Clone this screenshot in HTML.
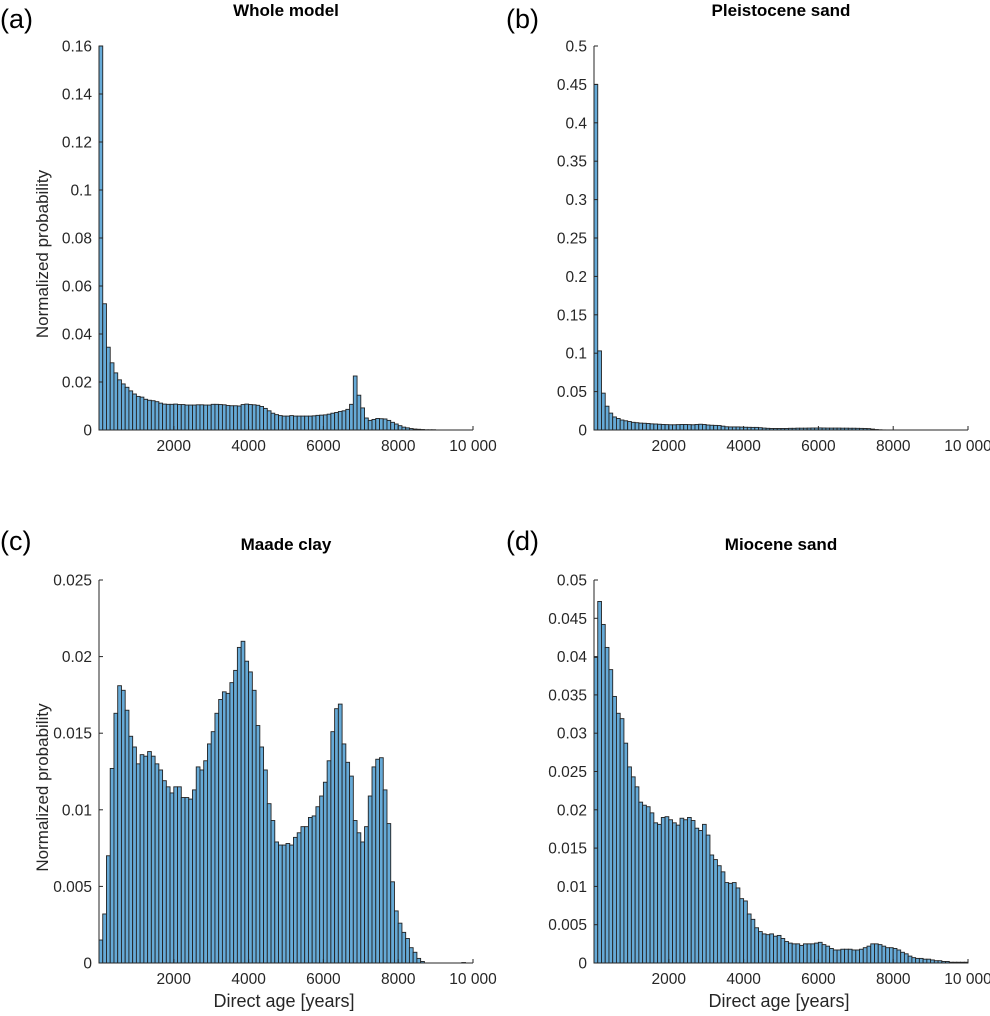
<!DOCTYPE html>
<html><head><meta charset="utf-8">
<style>
html,body{margin:0;padding:0;background:#fff;}
svg{display:block;font-family:"Liberation Sans",Arial,sans-serif;}
.pl{font-family:"Liberation Sans",sans-serif;font-size:27px;fill:#000;}
</style></head>
<body>
<svg id="fig" width="990" height="1016" viewBox="0 0 990 1016" xmlns="http://www.w3.org/2000/svg">
<text class="pl" x="0" y="28">(a)</text>
<text class="pl" x="506" y="28">(b)</text>
<text class="pl" x="0" y="550">(c)</text>
<text class="pl" x="506" y="550">(d)</text>
</svg>
<script>
const binEdgesStart = 0;
const binWidth = 100;
const xTicks = [2000, 4000, 6000, 8000, 10000];
const xTickLabels = ["2000", "4000", "6000", "8000", "10 000"];

const wholeModel = [.160,.0526,.0345,.028,.0238,.0209,.0192,.0178,.0163,.0150,
.0140,.0137,.0128,.0124,.0122,.0118,.0112,.0108,.0107,.0107,
.0108,.0106,.0106,.0104,.0104,.0104,.0105,.0105,.0104,.0104,
.0107,.0107,.0106,.0105,.0102,.0101,.0101,.0100,.0106,.0108,
.0106,.0105,.0103,.0098,.0090,.0080,.0070,.0064,.0060,.0058,
.0058,.0060,.0058,.0058,.0058,.0058,.0058,.0059,.0061,.0062,
.0063,.0066,.0070,.0073,.0077,.0080,.0086,.0107,.0225,.0145,
.0092,.0050,.0040,.0044,.0048,.0047,.0046,.0040,.0032,.0025,
.0018,.0012,.0009,.0006,.0004,.0003,.0002,.0001,.0001,.0001,
0,0,0,0,0,0,0,0,0,0];

const pleistoceneSand = [.450,.103,.048,.031,.022,.017,.015,.013,.012,.011,
.010,.0095,.009,.0088,.0085,.008,.0078,.0075,.0072,.007,
.0068,.0068,.007,.0072,.0072,.007,.0068,.0072,.0075,.0072,
.0065,.0062,.006,.0058,.005,.0042,.004,.004,.004,.0038,
.0036,.0035,.0034,.0034,.003,.0025,.0022,.002,.002,.002,
.002,.002,.0022,.0022,.0024,.0024,.0024,.0025,.0026,.0026,
.0027,.0026,.0025,.0025,.0025,.0025,.0024,.0024,.0023,.0023,
.0022,.0021,.002,.0018,.0012,.0006,.0003,.0001,0,0,
0,0,0,0,0,0,0,0,0,0,
0,0,0,0,0,0,0,0,0,0];

const maadeClay = [.0015,.0032,.0070,.0127,.0163,.0181,.0178,.0165,.0148,.0141,
.0130,.0136,.0135,.0138,.0135,.0130,.0126,.0119,.0115,.0111,
.0115,.0115,.0108,.0108,.0107,.0113,.0128,.0126,.0132,.0143,
.0151,.0163,.0172,.0177,.0176,.0183,.0191,.0206,.0210,.0197,
.0190,.0178,.0155,.0141,.0126,.0104,.0093,.0079,.0077,.0077,
.0078,.0077,.0082,.0085,.0089,.0089,.0095,.0096,.0102,.0109,
.0118,.0132,.0151,.0166,.0169,.0143,.0131,.0122,.0093,.0085,
.0079,.0089,.0109,.0128,.0133,.0134,.0113,.0091,.0053,.0034,
.0026,.0020,.0016,.0010,.0007,.0003,.0001,0,0,0,
0,0,0,0,0,0,0,.00003,0,0];

const mioceneSand = [.0399,.0472,.0442,.0412,.0383,.0348,.0326,.0319,.0287,.0256,
.0243,.0230,.0210,.0206,.0204,.0196,.0183,.0181,.0190,.0191,
.0187,.0183,.0180,.0189,.0187,.0190,.0186,.0176,.0173,.0181,
.0167,.0141,.0135,.0127,.0119,.0105,.0104,.0105,.0098,.0084,
.0081,.0064,.0057,.0046,.0041,.0038,.0037,.0038,.0035,.0036,
.0032,.0028,.0026,.0025,.0025,.0023,.0025,.0025,.0025,.0026,
.0027,.0024,.0022,.0019,.0017,.0017,.0018,.0018,.0018,.0017,
.0017,.0018,.0020,.0022,.0025,.0025,.0024,.0022,.0020,.0020,
.0019,.0017,.0014,.0012,.0009,.0007,.0006,.0006,.0005,.0005,
.0004,.0003,.0003,.0002,.0002,.0001,.0001,.0001,.0001,.0001];

const yTicksA = [0,0.02,0.04,0.06,0.08,0.1,0.12,0.14,0.16];
const yTickLabelsA = ["0","0.02","0.04","0.06","0.08","0.1","0.12","0.14","0.16"];
const yTicksB = [0,0.05,0.1,0.15,0.2,0.25,0.3,0.35,0.4,0.45,0.5];
const yTickLabelsB = ["0","0.05","0.1","0.15","0.2","0.25","0.3","0.35","0.4","0.45","0.5"];
const yTicksC = [0,0.005,0.01,0.015,0.02,0.025];
const yTickLabelsC = ["0","0.005","0.01","0.015","0.02","0.025"];
const yTicksD = [0,0.005,0.01,0.015,0.02,0.025,0.03,0.035,0.04,0.045,0.05];
const yTickLabelsD = ["0","0.005","0.01","0.015","0.02","0.025","0.03","0.035","0.04","0.045","0.05"];

const NS = "http://www.w3.org/2000/svg";
const svg = document.getElementById('fig');
function mk(tag, attrs, parent){const e=document.createElementNS(NS,tag);for(const k in attrs)e.setAttribute(k,attrs[k]);(parent||svg).appendChild(e);return e;}

function panel(key, box, yMax, values, yTicks, yLabels, title, showYLabel, showXLabel){
  const g = mk('g',{});
  
  
  const xs = v => box.l + (v/10000)*(box.r-box.l);
  const ys = v => box.b - (v/yMax)*(box.b-box.t);
  values.forEach((v,i)=>{
    if(v<=0) return;
    const x0 = xs(binEdgesStart + i*binWidth), x1 = xs(binEdgesStart + (i+1)*binWidth);
    const r = mk('rect',{x:x0,y:ys(v),width:x1-x0,height:ys(0)-ys(v),fill:'rgb(102,170,215)',stroke:'#222','stroke-width':0.9},g);
    
    
  });
  const ax = mk('path',{d:`M${box.l} ${box.t}V${box.b}H${box.r}`,fill:'none',stroke:'#262626','stroke-width':1},g);
  
  
  yTicks.forEach((t,i)=>{
    const y = ys(t);
    mk('line',{x1:box.l,x2:box.l+4,y1:y,y2:y,stroke:'#262626'},g);
    const tx = mk('text',{x:box.l-7,y:y+5.5,'text-anchor':'end','font-size':15.5,fill:'#262626'},g);
    tx.textContent = yLabels[i];
    
    
  });
  xTicks.forEach((t,i)=>{
    const x = xs(t);
    mk('line',{x1:x,x2:x,y1:box.b,y2:box.b-4,stroke:'#262626'},g);
    const tx = mk('text',{x:x,y:box.b+21,'text-anchor':'middle','font-size':15.5,fill:'#262626'},g);
    tx.textContent = xTickLabels[i];
    
    
  });
  const tt = mk('text',{x:(box.l+box.r)/2,y:box.t-30,'text-anchor':'middle','font-size':17,'font-weight':'bold',fill:'#000'},g);
  tt.textContent = title;
  
  
  if(showYLabel){
    const cy=(box.t+box.b)/2+16;
    const yl = mk('text',{x:48,y:cy,transform:`rotate(-90 48 ${cy})`,'text-anchor':'middle','font-size':17,fill:'#262626'},g);
    yl.textContent = 'Normalized probability';
    
    
  }
  if(showXLabel){
    const xl = mk('text',{x:(box.l+box.r)/2-2,y:box.b+44,'text-anchor':'middle','font-size':18,fill:'#262626'},g);
    xl.textContent = 'Direct age [years]';
    
    
  }
}
panel('a',{l:99,r:473,t:46,b:430},0.16,wholeModel,yTicksA,yTickLabelsA,'Whole model',true,false);
panel('b',{l:594,r:968,t:46,b:430},0.5,pleistoceneSand,yTicksB,yTickLabelsB,'Pleistocene sand',false,false);
panel('c',{l:99,r:473,t:580,b:963},0.025,maadeClay,yTicksC,yTickLabelsC,'Maade clay',true,true);
panel('d',{l:594,r:968,t:580,b:963},0.05,mioceneSand,yTicksD,yTickLabelsD,'Miocene sand',false,true);
</script>
</body></html>
